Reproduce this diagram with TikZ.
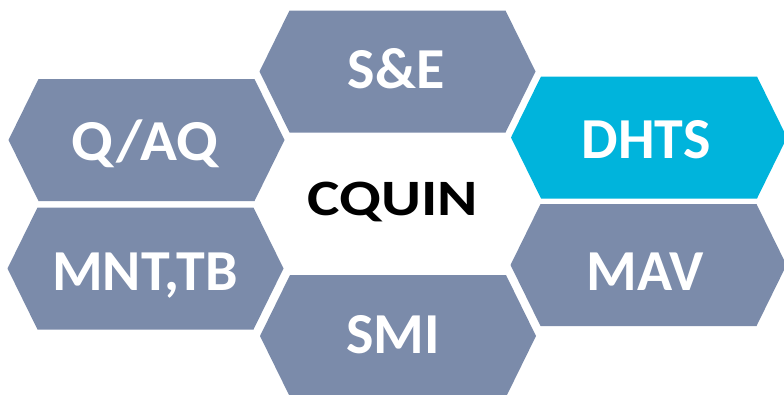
\documentclass[tikz,border=0pt]{standalone}
\usepackage{fontspec}
\setmainfont{Carlito}
\definecolor{hexgray}{RGB}{123,139,170}
\definecolor{hexcyan}{RGB}{0,180,220}
% one elongated hexagon, centred at (#1,#2), filled with #3
\newcommand{\hexcell}[3]{%
  \begin{scope}[shift={(#1,#2)}]
    \fill[#3] (-138,0) -- (-108,61) -- (108,61) -- (138,0) -- (108,-61) -- (-108,-61) -- cycle;
  \end{scope}}

\begin{document}
\begin{tikzpicture}[x=1pt,y=-1pt,
  hexlabel/.style={text=white,anchor=base,inner sep=0pt,font=\fontsize{58}{60}\selectfont\bfseries},
  hublabel/.style={text=black,anchor=base,inner sep=0pt,font=\fontsize{51}{60}\selectfont\bfseries}]
\useasboundingbox (0,0) rectangle (784,394);
\clip (0,0) rectangle (784,394);
\hexcell{397.5}{71.5}{hexgray}
\hexcell{146.5}{140}{hexgray}
\hexcell{649}{137.5}{hexcyan}
\hexcell{145.5}{268.5}{hexgray}
\hexcell{648.5}{265}{hexgray}
\hexcell{398}{336}{hexgray}
\node[hexlabel] (se) at (396,88) {S\&E};
\node[hexlabel] (qaq) at (145,160) {\scalebox{1.05}[1]{Q/AQ}};
\node[hexlabel] (dhts) at (646,158) {DHTS};
\node[hexlabel] (mnttb) at (145,290) {MNT,TB};
\node[hexlabel] (mav) at (645,290) {MAV};
\node[hexlabel] (smi) at (393,353) {SMI};
\node[hublabel] (cquin) at (392.5,215) {\scalebox{1.2}[1]{CQUIN}};
\end{tikzpicture}
\end{document}
